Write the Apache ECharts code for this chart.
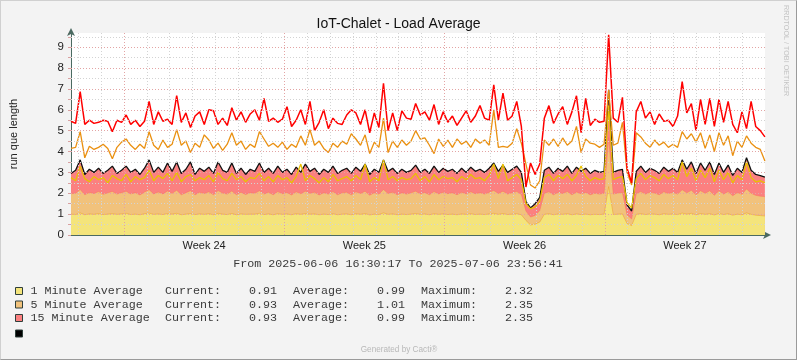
<!DOCTYPE html>
<html>
<head>
<meta charset="utf-8">
<script src="https://cdn.jsdelivr.net/npm/echarts@6/dist/echarts.min.js"></script>
<style>
html,body{margin:0;padding:0;background:#F3F3F3;}
#wrap{position:relative;width:797px;height:360px;}
#c{position:absolute;left:0;top:0;width:797px;height:360px;}
#frame{position:absolute;left:0;top:0;width:797px;height:360px;box-sizing:border-box;
  border-top:1px solid #d0d0d0;border-left:1px solid #d0d0d0;border-right:1px solid #9a9a9a;border-bottom:1px solid #9a9a9a;pointer-events:none;}
</style>
</head>
<body>
<div id="wrap"><div id="c"></div><div id="frame"></div></div>
<script>
// ---------- texts ----------
const chartTitle = 'IoT-Chalet - Load Average';
const yAxisTitle = 'run que length';
const periodText = 'From 2025-06-06 16:30:17 To 2025-07-06 23:56:41';
const footerText = 'Generated by Cacti®';
const sideText = 'RRDTOOL / TOBI OETIKER';

// ---------- time axis (days after 2025-06-06 00:00) ----------
const xStartDay = 0.6877;   // 16:30:17
const xEndDay = 30.9977;    // 2025-07-06 23:56:41
const sampleStepDay = 0.2007;
const dayGridLines = [1,2,4,5,6,7,8,9,11,12,13,14,15,16,18,19,20,21,22,23,25,26,27,28,29,30];
const weekGridLines = [3,10,17,24];
const weekLabelPos = [6.5,13.5,20.5,27.5];
const weekLabels = ['Week 24','Week 25','Week 26','Week 27'];
const yMinorGrid = [0.5,1.5,2.5,3.5,4.5,5.5,6.5,7.5,8.5,9.5];
const yMajorGrid = [1,2,3,4,5,6,7,8,9];

// ---------- legend ----------
const legendNames = ['1 Minute Average','5 Minute Average','15 Minute Average'];
const currentVals = ['0.91','0.93','0.93'];
const averageVals = ['0.99','1.01','0.99'];
const maximumVals = ['2.32','2.35','2.35'];

// ---------- series values ----------
const load1Area = [1.00,0.98,1.06,0.97,1.01,0.99,1.03,0.98,1.00,1.02,
 0.99,1.01,1.04,0.98,1.00,0.97,1.02,1.05,0.99,1.01,
 0.98,1.03,1.00,1.04,0.97,1.00,1.03,0.98,1.01,0.99,
 1.02,0.97,1.04,1.00,0.98,1.03,0.97,1.01,0.99,1.00,
 1.00,1.04,0.98,1.01,0.97,1.02,0.99,1.01,0.97,1.02,
 0.99,1.03,1.00,1.01,0.97,1.00,0.98,1.02,0.97,1.00,
 1.01,0.97,1.02,0.99,1.03,0.96,1.00,0.98,1.06,0.99,
 1.01,0.97,1.00,0.98,1.00,1.03,0.99,1.01,0.97,1.02,
 0.99,1.01,0.98,1.00,0.97,1.01,0.99,1.02,0.98,1.00,
 0.98,1.01,1.04,0.99,1.03,0.98,1.00,1.02,0.97,0.70,
 0.48,0.52,0.62,0.99,1.02,0.97,1.01,0.99,1.02,0.97,
 1.01,0.98,1.00,0.97,0.99,0.98,1.00,2.32,0.98,1.00,
 1.01,0.55,0.45,0.99,1.02,0.98,1.01,1.00,0.97,1.02,
 0.99,1.01,0.98,1.05,1.00,1.04,0.97,1.03,0.99,1.02,
 0.96,1.03,0.98,1.02,0.95,1.00,0.97,1.06,0.99,0.95,
 0.93,0.91];
const load5Area = [0.98,1.02,1.12,0.96,1.03,1.00,1.05,0.97,1.02,1.07,
 0.97,1.02,1.06,0.99,1.03,0.95,1.04,1.12,0.98,1.05,
 0.99,1.08,1.00,1.10,0.96,1.03,1.09,0.95,1.04,1.00,
 1.05,0.96,1.09,1.01,0.98,1.08,0.96,1.04,0.95,1.03,
 1.00,1.08,0.98,1.04,0.96,1.06,0.99,1.03,0.95,1.05,
 0.99,1.07,1.00,1.04,0.95,1.03,0.98,1.06,0.96,1.02,
 1.04,0.96,1.05,1.00,1.07,0.95,1.03,0.98,1.12,1.00,
 1.04,0.96,1.03,0.98,1.02,1.07,0.98,1.03,0.96,1.06,
 0.98,1.04,1.00,1.03,0.96,1.04,0.98,1.05,1.00,1.03,
 0.98,1.04,1.09,1.00,1.07,0.98,1.03,1.06,0.98,0.45,
 0.38,0.42,0.55,1.01,1.05,0.96,1.04,1.00,1.06,0.96,
 1.05,1.00,1.04,0.96,1.01,0.98,1.00,2.35,0.98,1.01,
 1.03,0.42,0.32,1.00,1.06,0.98,1.04,1.01,0.96,1.05,
 1.00,1.04,0.98,1.12,1.02,1.10,0.96,1.09,1.01,1.10,
 0.95,1.09,0.98,1.06,0.93,1.04,0.98,1.15,1.01,0.95,
 0.93,0.93];
const load15Area = [0.97,1.10,1.42,0.97,1.11,1.01,1.12,1.00,1.08,1.21,
 0.99,1.07,1.20,1.03,1.12,0.98,1.14,1.43,1.03,1.19,
 1.03,1.34,1.05,1.36,1.02,1.12,1.38,0.97,1.15,1.06,
 1.18,1.02,1.37,1.09,1.04,1.34,1.02,1.15,0.96,1.12,
 1.05,1.33,1.04,1.15,1.02,1.22,1.02,1.11,0.98,1.18,
 1.02,1.30,1.05,1.15,0.98,1.12,1.04,1.22,1.02,1.08,
 1.15,1.02,1.18,1.06,1.30,0.99,1.12,1.04,1.42,1.06,
 1.15,1.02,1.12,1.04,1.08,1.25,1.03,1.11,1.02,1.22,
 1.03,1.15,1.07,1.12,1.02,1.15,1.03,1.18,1.07,1.12,
 1.04,1.15,1.32,1.06,1.25,1.04,1.12,1.22,1.05,0.45,
 0.44,0.56,0.63,1.10,1.18,1.02,1.15,1.06,1.22,1.02,
 1.19,1.07,1.16,1.02,1.10,1.04,1.05,2.30,1.04,1.09,
 1.11,0.48,0.38,1.06,1.22,1.04,1.15,1.09,1.02,1.18,
 1.06,1.15,1.04,1.43,1.13,1.36,1.02,1.33,1.10,1.38,
 0.99,1.33,1.04,1.27,0.97,1.16,1.05,1.49,1.10,1.00,
 0.99,0.93];
const load1Line = [2.75,2.60,3.30,2.70,2.55,2.80,2.65,2.75,2.50,2.85,
 2.70,2.60,2.90,2.55,2.80,2.65,2.75,3.10,2.60,2.85,
 2.70,2.95,2.60,3.00,2.55,2.80,2.90,2.60,2.75,2.65,
 2.85,2.55,3.00,2.70,2.60,2.95,2.65,2.80,2.55,2.75,
 2.70,2.95,2.60,2.80,2.55,2.85,2.65,2.75,2.50,2.80,
 3.40,2.60,2.85,2.70,2.50,2.75,2.55,2.90,2.60,2.70,
 2.80,2.60,2.85,2.65,3.40,2.55,2.75,2.60,3.60,2.65,
 2.80,2.60,2.75,2.65,2.70,2.95,2.60,2.80,2.55,2.90,
 2.65,2.80,2.70,2.75,2.55,2.80,2.65,2.90,2.70,2.75,
 2.60,2.85,3.40,2.70,3.40,2.60,2.75,2.90,2.65,1.50,
 1.25,1.35,1.60,2.75,2.90,2.60,2.85,2.70,2.90,2.60,
 2.85,3.30,2.80,2.60,2.75,2.65,2.70,6.20,2.65,2.75,
 2.80,1.55,1.30,2.70,2.95,2.65,2.85,2.75,2.60,2.90,
 2.70,2.85,2.65,3.50,2.80,3.20,2.60,3.10,2.75,3.20,
 2.55,3.10,2.65,3.00,2.50,2.85,2.65,3.50,2.75,2.55,
 2.60,2.50];
const load5Line = [4.15,4.20,4.95,3.70,4.25,4.10,4.20,4.35,4.15,3.65,
 4.20,4.45,4.60,4.30,4.10,4.35,4.15,4.95,4.30,4.10,
 4.55,4.20,4.35,5.05,4.30,4.50,3.95,4.40,4.20,4.80,
 4.55,4.15,4.40,4.05,4.35,4.90,4.30,4.50,4.10,4.35,
 4.20,4.95,4.60,4.25,4.40,4.20,4.45,4.10,4.35,4.20,
 4.75,4.30,5.05,4.30,4.50,4.15,3.95,4.40,4.20,4.50,
 4.35,4.85,4.60,4.30,4.80,3.90,4.45,4.20,5.60,3.95,
 4.50,4.20,4.55,4.30,4.50,5.00,4.60,4.65,4.30,3.90,
 4.60,4.25,4.55,4.20,4.60,4.35,4.50,4.20,4.60,4.40,
 4.55,4.30,6.00,4.20,4.25,4.20,4.40,5.10,4.40,3.40,
 2.40,2.25,2.60,4.55,4.30,4.60,4.25,4.65,4.30,4.50,
 5.20,3.95,4.60,4.40,4.35,4.20,4.35,6.95,4.30,4.40,
 5.40,3.00,2.40,4.90,4.70,4.40,4.20,4.55,4.30,4.45,
 4.20,4.35,4.20,4.95,4.60,4.85,4.45,4.90,4.15,4.80,
 4.00,4.90,4.30,4.75,3.80,4.50,4.20,4.75,4.40,4.20,
 4.10,3.55];
const load15Line = [5.45,5.35,6.87,5.30,5.50,5.35,5.40,5.50,5.45,4.95,
 5.50,5.40,5.75,5.30,5.50,5.20,5.45,6.40,5.30,5.90,
 5.45,5.55,5.30,6.68,5.40,5.85,5.15,5.70,5.90,5.30,
 6.00,5.95,5.30,5.60,5.25,6.10,5.50,5.90,5.40,5.80,
 6.00,5.50,6.55,5.45,5.60,5.40,5.55,6.15,5.20,5.50,
 6.00,5.30,6.40,5.00,5.40,6.00,5.10,5.60,5.35,5.30,
 5.75,6.00,5.85,5.30,6.00,4.90,5.85,5.15,7.27,5.00,
 5.85,5.00,5.95,5.60,5.55,6.30,5.75,5.90,5.50,6.25,
 5.30,5.90,5.40,5.70,5.25,5.60,5.95,5.40,5.70,6.20,
 5.60,5.50,7.19,5.50,6.80,5.50,5.70,6.40,5.20,2.30,
 3.45,2.90,3.40,5.60,6.20,5.35,5.80,6.15,5.30,5.90,
 6.67,4.90,6.55,5.25,5.55,5.40,5.45,9.59,5.60,5.40,
 6.60,3.20,2.50,5.90,6.40,5.60,5.90,5.30,5.80,5.45,
 5.50,5.20,5.70,7.35,5.85,6.30,5.00,6.50,5.30,6.55,
 5.20,6.50,5.40,6.40,5.30,4.90,5.90,5.10,6.40,5.20,
 5.00,4.70];

// ---------- styles ----------
const AREA1 = '#F4E47B';
const AREA5 = '#F1C27C';
const AREA15 = '#FB8080';
const MAJOR = '#e3a4a4';
const MINOR = '#d3d3d3';
const AXIS = '#4b6a61';
const SANS = '"Liberation Sans", Arial, sans-serif';
const MONO = '"Liberation Mono", "Courier New", monospace';

// stacked totals (RRD STACK) built from the three area series
const stack2 = load1Area.map((v, i) => v + load5Area[i]);
const stack3 = stack2.map((v, i) => v + load15Area[i]);
const pts = arr => arr.map((v, i) => [xStartDay + i * sampleStepDay, +v.toFixed(3)]);

const chart = echarts.init(document.getElementById('c'), null, {renderer: 'canvas'});

const dotted = [1, 2];
const gridMarks = []
  .concat(dayGridLines.map(d => ({xAxis: d, lineStyle: {color: MINOR, type: dotted, width: 1}})))
  .concat(yMinorGrid.map(v => ({yAxis: v, lineStyle: {color: MINOR, type: dotted, width: 1}})))
  .concat(weekGridLines.map(d => ({xAxis: d, lineStyle: {color: MAJOR, type: dotted, width: 1}})))
  .concat(yMajorGrid.map(v => ({yAxis: v, lineStyle: {color: MAJOR, type: dotted, width: 1}})));

// legend graphics
const rowY = [291, 304.5, 318];
const swatchCols = [AREA1, AREA5, AREA15];
const g = [];
const txt = (x, y, s, align, font, fill) => ({type: 'text', x, y, silent: true,
  style: {text: s, align: align, verticalAlign: 'middle', font: font, fill: fill}});
const legendFont = '11.7px ' + MONO;
const legendFill = '#3a3a3a';
rowY.forEach((y, i) => {
  g.push({type: 'rect', shape: {x: 15.5, y: y - 3.5, width: 7, height: 7}, style: {fill: swatchCols[i], stroke: '#2f3f3a', lineWidth: 1}});
  g.push(txt(30.5, y, legendNames[i], 'left', legendFont, legendFill));
  g.push(txt(165, y, 'Current:', 'left', legendFont, legendFill));
  g.push(txt(277, y, currentVals[i], 'right', legendFont, legendFill));
  g.push(txt(293, y, 'Average:', 'left', legendFont, legendFill));
  g.push(txt(405, y, averageVals[i], 'right', legendFont, legendFill));
  g.push(txt(421, y, 'Maximum:', 'left', legendFont, legendFill));
  g.push(txt(533, y, maximumVals[i], 'right', legendFont, legendFill));
});
g.push({type: 'rect', shape: {x: 15.5, y: 330, width: 7, height: 7}, style: {fill: '#000', stroke: '#2f3f3a', lineWidth: 1}});
g.push(txt(398, 263.5, periodText, 'center', legendFont, legendFill));
g.push(txt(399, 349.5, footerText, 'center', '8.2px ' + SANS, '#b8b8b8'));
g.push({type: 'text', x: 786, y: 5, rotation: -Math.PI / 2, silent: true,
  style: {text: sideText, align: 'left', verticalAlign: 'middle', font: '7.2px ' + SANS, fill: '#c4c4c4'}});

const option = {
  animation: false,
  backgroundColor: '#F3F3F3',
  title: {text: chartTitle, left: 'center', top: 12,
    textStyle: {fontFamily: SANS, fontSize: 14, fontWeight: 'normal', color: '#111'}},
  grid: {left: 67, right: 32, top: 33, bottom: 125, show: true, backgroundColor: '#ffffff', borderWidth: 0},
  xAxis: {
    type: 'value', min: xStartDay, max: xEndDay,
    axisLine: {show: true, onZero: false, lineStyle: {color: AXIS, width: 1},
      symbol: ['none', 'arrow'], symbolSize: [6, 8], symbolOffset: [0, 6]},
    axisTick: {show: false},
    splitLine: {show: false},
    axisLabel: {customValues: weekLabelPos, margin: 5, fontFamily: SANS, fontSize: 11, color: '#222',
      formatter: v => { const k = weekLabelPos.findIndex(p => Math.abs(p - v) < 1e-6); return k >= 0 ? weekLabels[k] : ''; }}
  },
  yAxis: {
    type: 'value', min: 0, max: 9.68, interval: 0.5,
    name: yAxisTitle, nameLocation: 'middle', nameRotate: 90, nameGap: 52,
    nameTextStyle: {fontFamily: SANS, fontSize: 11, color: '#222'},
    axisLine: {show: true, lineStyle: {color: AXIS, width: 1},
      symbol: ['none', 'arrow'], symbolSize: [6, 8], symbolOffset: [0, 5]},
    axisTick: {show: true, length: 3, lineStyle: {color: '#d8a0a0'}},
    axisLabel: {margin: 7, fontFamily: SANS, fontSize: 11.5, color: '#222',
      formatter: v => (Math.abs(v - Math.round(v)) < 1e-9 ? String(Math.round(v)) : '')},
    splitLine: {show: false}
  },
  series: [
    {type: 'line', name: legendNames[2], data: pts(stack3), showSymbol: false, z: 2,
      lineStyle: {width: 1.3, color: '#111'}, areaStyle: {color: AREA15, opacity: 1}},
    {type: 'line', name: legendNames[1], data: pts(stack2), showSymbol: false, z: 2,
      lineStyle: {width: 0.8, color: 'rgba(250,110,90,0.6)'}, areaStyle: {color: AREA5, opacity: 1}},
    {type: 'line', name: legendNames[0], data: pts(load1Area), showSymbol: false, z: 2,
      lineStyle: {width: 0.8, color: 'rgba(235,150,40,0.6)'}, areaStyle: {color: AREA1, opacity: 1}},
    {type: 'line', name: 'grid', data: [], z: 3, silent: true,
      markLine: {silent: true, symbol: ['none', 'none'], label: {show: false}, animation: false, data: gridMarks}},
    {type: 'line', name: 'line1', data: pts(load1Line), showSymbol: false, z: 4,
      lineStyle: {width: 1.3, color: '#E8C000'}},
    {type: 'line', name: 'line5', data: pts(load5Line), showSymbol: false, z: 4,
      lineStyle: {width: 1.3, color: '#EA9010'}},
    {type: 'line', name: 'line15', data: pts(load15Line), showSymbol: false, z: 4,
      lineStyle: {width: 1.5, color: '#FF0000'}}
  ],
  graphic: g
};
chart.setOption(option);
</script>
</body>
</html>
